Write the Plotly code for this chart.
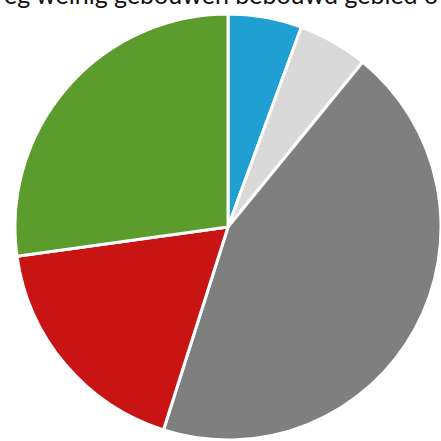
import plotly.graph_objects as go

labels = ["Blauw", "Lichtgrijs", "Grijs", "Rood", "Groen"]
values = [5.6, 5.3, 44.0, 17.9, 27.2]
colors = ["#1f9fd2", "#d9d9d9", "#7f7f7f", "#c91414", "#5b9c2c"]
title_text = "eg weinig gebouwen bebouwd gebied o"

fig = go.Figure(go.Pie(
    labels=labels,
    values=values,
    sort=False,
    direction="clockwise",
    rotation=0,
    marker=dict(colors=colors, line=dict(color="white", width=3)),
    textinfo="none",
    hoverinfo="label+percent",
    showlegend=False,
    domain=dict(x=[15/441, 1], y=[1/441, 427/441]),
))

fig.add_annotation(
    text=title_text, xref="paper", yref="paper", x=0.5, y=1 - 11/441,
    xanchor="center", yanchor="bottom", showarrow=False,
    font=dict(family="Lato", size=25, color="#111111"),
)

fig.update_layout(
    width=441, height=441,
    margin=dict(l=0, r=0, t=0, b=0),
    paper_bgcolor="white", plot_bgcolor="white",
)

fig.write_html(
    "out.html",
    config={"displayModeBar": False},
    post_script="document.body.style.margin='0';document.body.style.overflow='hidden';",
)
